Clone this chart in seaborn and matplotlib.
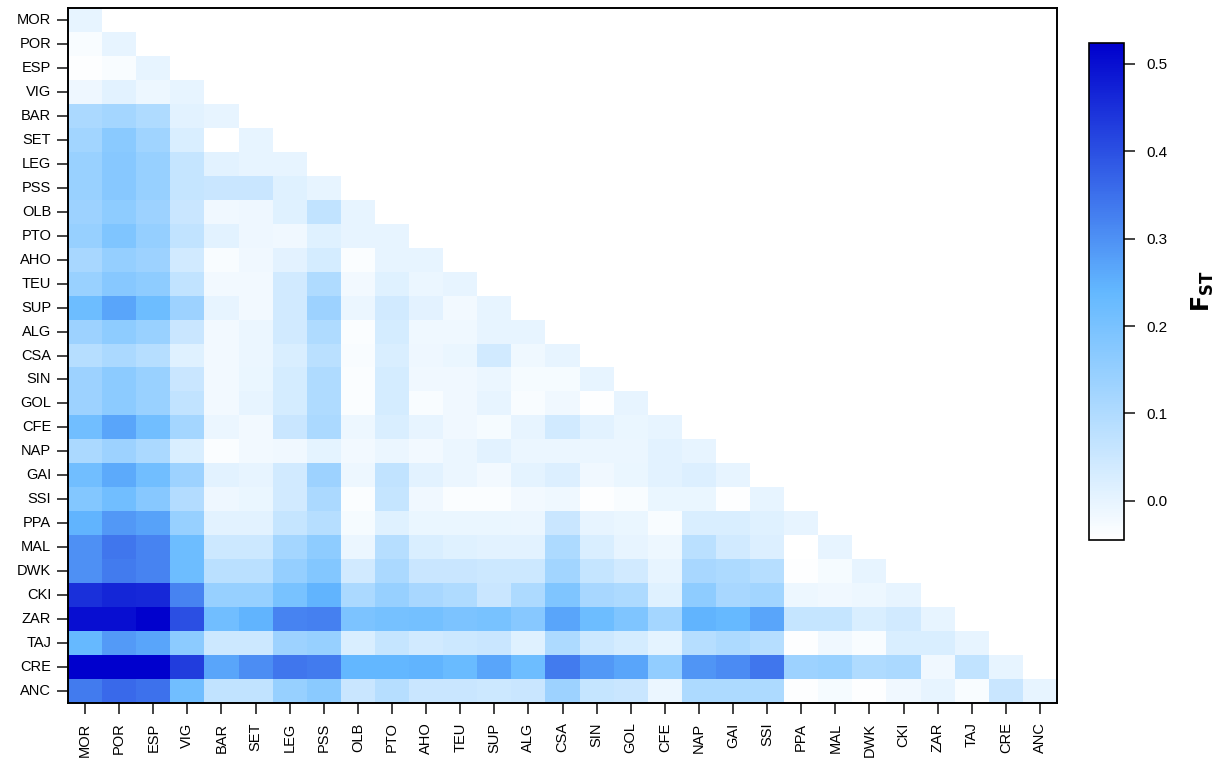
import numpy as np
import pandas as pd
import seaborn as sns
import matplotlib.pyplot as plt
from matplotlib.colors import LinearSegmentedColormap

sns.set_style("white")
plt.rcParams['font.family'] = ['Liberation Sans', 'DejaVu Sans']

pops = ["MOR", "POR", "ESP", "VIG", "BAR", "SET", "LEG", "PSS", "OLB", "PTO",
        "AHO", "TEU", "SUP", "ALG", "CSA", "SIN", "GOL", "CFE", "NAP", "GAI",
        "SSI", "PPA", "MAL", "DWK", "CKI", "ZAR", "TAJ", "CRE", "ANC"]

# pairwise FST, lower triangle (row i has i+1 values, diagonal last)
mor = [0.0]
por = [-0.03, 0.0]
esp = [-0.04, -0.03, 0.0]
vig = [-0.012, 0.01, -0.01, 0.0]
bar = [0.11, 0.12, 0.10, 0.01, 0.0]
set_ = [0.125, 0.17, 0.13, 0.025, -0.045, 0.0]
leg = [0.14, 0.175, 0.145, 0.06, 0.01, 0.0, 0.0]
pss = [0.14, 0.175, 0.145, 0.06, 0.055, 0.055, 0.015, 0.0]
olb = [0.135, 0.16, 0.135, 0.055, -0.018, -0.012, 0.015, 0.07, 0.0]
pto = [0.145, 0.19, 0.15, 0.07, 0.01, -0.012, -0.018, 0.015, 0.0, 0.0]
aho = [0.115, 0.15, 0.135, 0.04, -0.03, -0.018, 0.008, 0.035, -0.035, 0.0, 0.0]
teu = [0.14, 0.175, 0.16, 0.07, -0.02, -0.02, 0.04, 0.10, -0.02, 0.015, -0.008, 0.0]
sup = [0.22, 0.27, 0.22, 0.135, 0.0, -0.02, 0.04, 0.135, -0.008, 0.04, 0.008,
       -0.02, 0.0]
alg = [0.135, 0.16, 0.14, 0.055, -0.02, -0.008, 0.04, 0.10, -0.035, 0.035,
       -0.015, -0.015, 0.0, 0.0]
csa = [0.09, 0.11, 0.09, 0.015, -0.02, -0.008, 0.025, 0.08, -0.03, 0.025,
       -0.012, -0.005, 0.04, -0.015, 0.0]
sin = [0.135, 0.165, 0.14, 0.055, -0.02, -0.005, 0.035, 0.10, -0.035, 0.035,
       -0.018, -0.018, -0.008, -0.025, -0.025, 0.0]
gol = [0.135, 0.165, 0.14, 0.07, -0.02, 0.0, 0.035, 0.10, -0.035, 0.035,
       -0.03, -0.018, 0.0, -0.03, -0.018, -0.04, 0.0]
cfe = [0.215, 0.27, 0.215, 0.12, -0.008, -0.02, 0.055, 0.11, -0.01, 0.025,
       0.0, -0.018, -0.025, 0.0, 0.04, 0.01, -0.005, 0.0]
nap = [0.11, 0.135, 0.11, 0.025, -0.035, -0.02, -0.018, 0.005, -0.02, -0.008,
       -0.02, -0.008, 0.01, -0.008, -0.008, -0.008, -0.008, 0.01, 0.0]
gai = [0.215, 0.26, 0.215, 0.135, 0.01, 0.0, 0.04, 0.135, -0.01, 0.07,
       0.01, -0.008, -0.02, 0.005, 0.02, -0.018, -0.005, 0.01, 0.02, 0.0]
ssi = [0.18, 0.215, 0.175, 0.095, -0.012, -0.005, 0.04, 0.11, -0.035, 0.06,
       -0.018, -0.035, -0.035, -0.02, -0.015, -0.04, -0.03, -0.005, -0.005, -0.04,
       0.0]
ppa = [0.245, 0.29, 0.275, 0.145, 0.01, 0.01, 0.06, 0.09, -0.025, 0.015,
       -0.005, -0.005, -0.005, -0.008, 0.055, 0.0, -0.005, -0.03, 0.025, 0.025,
       0.015, 0.0]
mal = [0.30, 0.34, 0.32, 0.22, 0.05, 0.05, 0.12, 0.16, -0.008, 0.09,
       0.025, 0.015, 0.01, 0.01, 0.105, 0.025, 0.0, -0.01, 0.08, 0.04,
       0.02, -0.045, 0.0]
dwk = [0.30, 0.335, 0.32, 0.22, 0.08, 0.08, 0.15, 0.18, 0.04, 0.11,
       0.055, 0.055, 0.05, 0.05, 0.125, 0.06, 0.04, 0.0, 0.115, 0.105,
       0.09, -0.04, -0.025, 0.0]
cki = [0.45, 0.465, 0.46, 0.32, 0.145, 0.145, 0.20, 0.245, 0.11, 0.145,
       0.115, 0.10, 0.055, 0.105, 0.19, 0.115, 0.105, 0.015, 0.16, 0.115,
       0.125, -0.01, -0.018, -0.01, 0.0]
zar = [0.50, 0.50, 0.52, 0.40, 0.215, 0.245, 0.32, 0.325, 0.195, 0.205,
       0.21, 0.195, 0.20, 0.175, 0.27, 0.22, 0.19, 0.12, 0.245, 0.235,
       0.27, 0.06, 0.06, 0.025, 0.04, 0.0]
taj = [0.235, 0.285, 0.27, 0.165, 0.05, 0.05, 0.135, 0.145, 0.025, 0.06,
       0.04, 0.05, 0.055, 0.015, 0.105, 0.05, 0.035, 0.005, 0.09, 0.105,
       0.09, -0.04, -0.018, -0.03, 0.025, 0.025, 0.0]
cre = [0.525, 0.525, 0.525, 0.43, 0.27, 0.305, 0.34, 0.335, 0.24, 0.24,
       0.245, 0.23, 0.27, 0.22, 0.335, 0.29, 0.27, 0.155, 0.295, 0.31,
       0.34, 0.135, 0.14, 0.10, 0.11, -0.018, 0.07, 0.0]
anc = [0.335, 0.36, 0.35, 0.215, 0.07, 0.07, 0.145, 0.17, 0.055, 0.09,
       0.055, 0.055, 0.05, 0.055, 0.135, 0.06, 0.055, -0.008, 0.105, 0.105,
       0.105, -0.04, -0.025, -0.04, -0.018, 0.0, -0.03, 0.055, 0.0]

rows = [mor, por, esp, vig, bar, set_, leg, pss, olb, pto, aho, teu, sup, alg,
        csa, sin, gol, cfe, nap, gai, ssi, ppa, mal, dwk, cki, zar, taj, cre, anc]

n = len(pops)
mat = np.full((n, n), np.nan)
for i, r in enumerate(rows):
    mat[i, :len(r)] = r
df = pd.DataFrame(mat, index=pops, columns=pops)
mask = np.triu(np.ones((n, n), dtype=bool), k=1)

cmap = LinearSegmentedColormap.from_list("fst", ["#FFFFFF", "#63B8FF", "#0000CD"])

fig = plt.figure(figsize=(12.14, 7.64), dpi=100)
ax = fig.add_axes([68 / 1214, 1 - 703 / 764, 989 / 1214, 695 / 764])
cax = fig.add_axes([1089 / 1214, 1 - 540 / 764, 35 / 1214, 497 / 764])

sns.heatmap(df, mask=mask, cmap=cmap, vmin=-0.045, vmax=0.524, ax=ax,
            cbar_ax=cax, square=False, linewidths=0,
            cbar_kws={"ticks": [0.0, 0.1, 0.2, 0.3, 0.4, 0.5]})

for s in ax.spines.values():
    s.set_visible(True)
    s.set_color("black")
    s.set_linewidth(1.4)

ax.set_xlabel("")
ax.set_ylabel("")
ax.tick_params(axis="both", bottom=True, left=True, direction="out", length=8,
               width=1.2, color="#222222", labelcolor="black", labelsize=10.5)
ax.tick_params(axis="x", pad=6)
ax.tick_params(axis="y", pad=4)
plt.setp(ax.get_xticklabels(), rotation=90)
plt.setp(ax.get_yticklabels(), rotation=0)

cb = ax.collections[0].colorbar
cb.outline.set_edgecolor("black")
cb.outline.set_linewidth(1.2)
cb.ax.tick_params(right=True, direction="out", length=8, width=1.2,
                  labelsize=11, pad=8, color="#222222", labelcolor="black")
cb.ax.set_yticklabels(["0.0", "0.1", "0.2", "0.3", "0.4", "0.5"])
cb.set_label(r"$\mathbf{F}_{\mathbf{ST}}$", fontsize=17, labelpad=16, color="black")

plt.savefig("out.png", dpi=100)
plt.close()
